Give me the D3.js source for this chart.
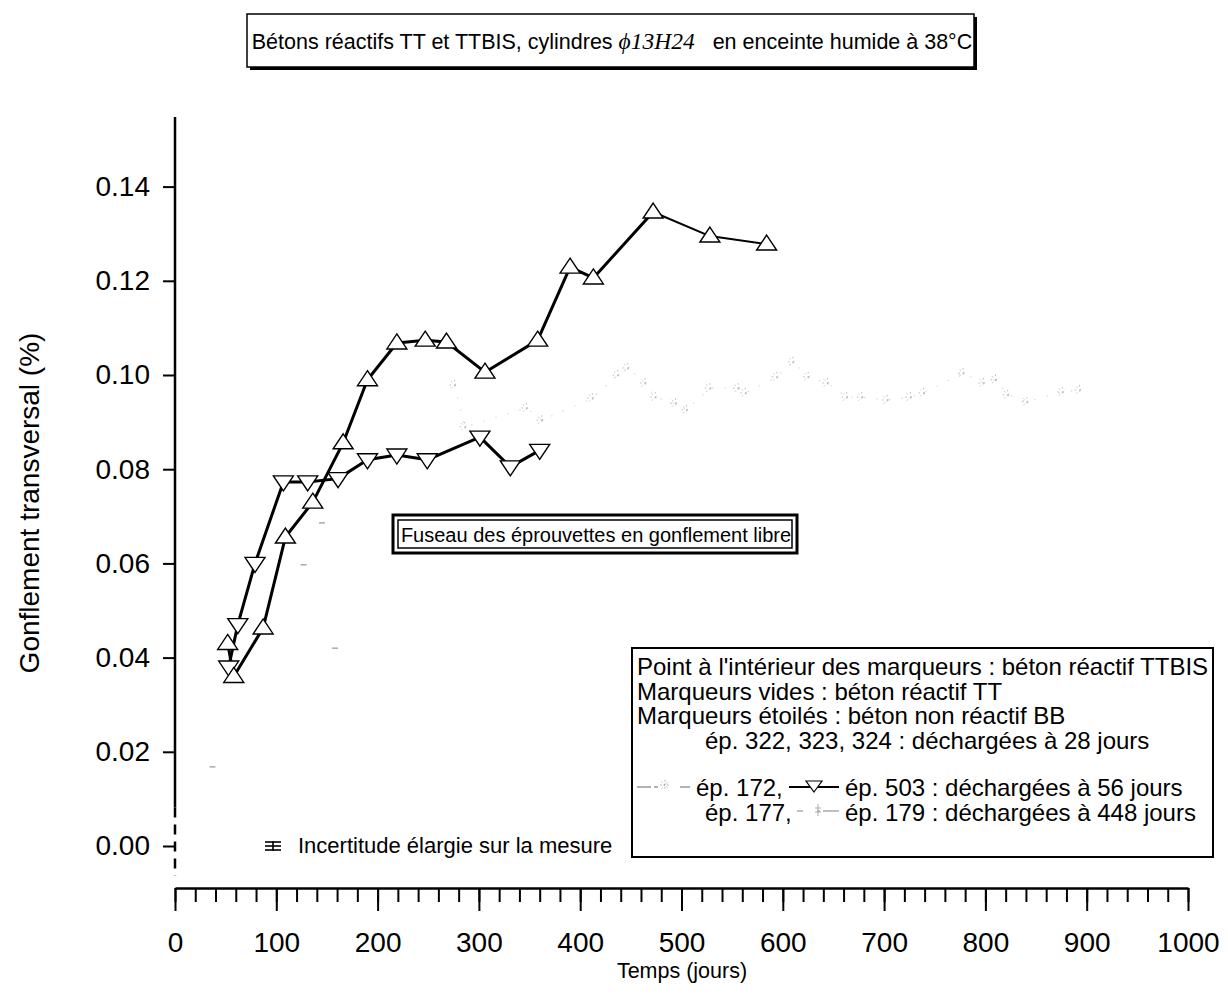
<!DOCTYPE html>
<html>
<head>
<meta charset="utf-8">
<script src="https://cdn.jsdelivr.net/npm/d3@7/dist/d3.min.js"></script>
<style>
  html, body { margin: 0; padding: 0; background: #fff; }
  svg { display: block; font-family: "Liberation Sans", Arial, Helvetica, sans-serif; }
</style>
</head>
<body>
<svg id="chart" width="1228" height="997"></svg>
<script>
// Swelling measurements (days, % transverse swelling)
const upDays   = [52, 58, 87, 109, 136, 166, 190, 219, 247, 268, 306, 358, 390, 413, 472, 528, 584];
const upValues = [0.043, 0.036, 0.0463, 0.0656, 0.073, 0.0856, 0.099, 0.1068, 0.1074, 0.107, 0.1006, 0.1074, 0.1229, 0.1206, 0.1346, 0.1295, 0.1278];

const downDays   = [53, 62, 79, 107, 131, 161, 190, 219, 249, 301, 331, 360];
const downValues = [0.038, 0.047, 0.060, 0.0773, 0.0773, 0.078, 0.082, 0.083, 0.082, 0.0868, 0.0805, 0.084];

// Non-reactive BB specimens (faint starred markers)
const bbDays   = [276, 286, 347, 362, 412, 437, 447, 464, 474, 494, 505, 528, 556, 563, 594, 610, 625, 644, 663, 678, 703, 726, 739, 778, 798, 810, 822, 841, 876, 893];
const bbValues = [0.0979, 0.089, 0.093, 0.0904, 0.0951, 0.100, 0.1015, 0.0983, 0.0953, 0.094, 0.0926, 0.0972, 0.0972, 0.0962, 0.0996, 0.1028, 0.0996, 0.0983, 0.0953, 0.0953, 0.0947, 0.0953, 0.0962, 0.1004, 0.0983, 0.099, 0.0958, 0.0943, 0.0964, 0.0968];

// Early specimens, almost invisible specks
const earlyDays   = [37, 127, 145, 158];
const earlyValues = [0.0168, 0.0597, 0.0686, 0.042];

const xTicks = d3.range(0, 1001, 100);
const xMinorTicks = d3.range(0, 1001, 20);
const yTicks = [0, 0.02, 0.04, 0.06, 0.08, 0.10, 0.12, 0.14];

const titleText = "Bétons réactifs TT et TTBIS, cylindres ";
const titleItalic = "\u03D513H24";
const titleEnd = "\u00A0\u00A0 en enceinte humide à 38°C";

const legendLines = [
  "Point à l'intérieur des marqueurs : béton réactif TTBIS",
  "Marqueurs vides : béton réactif TT",
  "Marqueurs étoilés : béton non réactif BB"
];

const svg = d3.select("#chart");

const x = d3.scaleLinear().domain([0, 1000]).range([175, 1188]);
const y = d3.scaleLinear().domain([0, 0.14]).range([846, 186.6]);

const zip = (a, b) => a.map((d, i) => ({ t: d, v: b[i] }));
const upData = zip(upDays, upValues);
const downData = zip(downDays, downValues);
const bbData = zip(bbDays, bbValues);
const earlyData = zip(earlyDays, earlyValues);

// ---- Title box with drop shadow
const tb = svg.append("g");
tb.append("rect").attr("x", 250).attr("y", 17).attr("width", 727).attr("height", 53).attr("fill", "#000");
tb.append("rect").attr("x", 247).attr("y", 14).attr("width", 727).attr("height", 53)
  .attr("fill", "#fff").attr("stroke", "#000").attr("stroke-width", 1.5);
const tt = tb.append("text").attr("x", 612).attr("y", 49).attr("text-anchor", "middle")
  .attr("font-size", 21.5).attr("fill", "#000");
tt.append("tspan").text(titleText);
tt.append("tspan").attr("font-family", "'Liberation Serif', 'Times New Roman', serif").attr("font-style", "italic").attr("font-size", 23.5).text(titleItalic);
tt.append("tspan").text(titleEnd);

// ---- Y axis
const yAxis = d3.axisLeft(y).tickValues(yTicks).tickFormat(d3.format(".2f")).tickSize(12).tickPadding(13);
const gy = svg.append("g").attr("transform", "translate(175,0)").call(yAxis);
gy.select(".domain").remove();
gy.selectAll(".tick line").attr("stroke", "#000").attr("stroke-width", 2);
gy.selectAll(".tick text").attr("font-size", 28).attr("fill", "#000").attr("font-family", "'Liberation Sans', Arial, sans-serif");
svg.append("line").attr("x1", 175).attr("x2", 175).attr("y1", y(0.1548)).attr("y2", y(0.0082))
  .attr("stroke", "#000").attr("stroke-width", 2.5);
svg.append("line").attr("x1", 175).attr("x2", 175).attr("y1", y(0.0082)).attr("y2", y(-0.0063))
  .attr("stroke", "#000").attr("stroke-width", 2.5).attr("stroke-dasharray", "10,7");

// ---- X axis
const gxMinor = svg.append("g").attr("transform", "translate(0,888)")
  .call(d3.axisBottom(x).tickValues(xMinorTicks).tickFormat("").tickSize(14).tickSizeOuter(0));
gxMinor.selectAll(".tick line").attr("stroke", "#000").attr("stroke-width", 2);
gxMinor.select(".domain").attr("stroke", "#000").attr("stroke-width", 2.5);
const gx = svg.append("g").attr("transform", "translate(0,888)")
  .call(d3.axisBottom(x).tickValues(xTicks).tickFormat(d3.format("d")).tickSize(23).tickPadding(21).tickSizeOuter(0));
gx.select(".domain").remove();
gx.selectAll(".tick line").attr("stroke", "#000").attr("stroke-width", 2);
gx.selectAll(".tick text").attr("font-size", 28).attr("fill", "#000").attr("font-family", "'Liberation Sans', Arial, sans-serif");

// ---- Axis titles
svg.append("text").attr("x", 682).attr("y", 978).attr("text-anchor", "middle")
  .attr("font-size", 21.5).attr("fill", "#000").text("Temps (jours)");
svg.append("text").attr("transform", "translate(39,503) rotate(-90)").attr("text-anchor", "middle")
  .attr("font-size", 28).attr("fill", "#000").text("Gonflement transversal (%)");

// ---- Faint series
const line = d3.line().x(d => x(d.t)).y(d => y(d.v));
const starPath = "M-5,0L5,0M0,-5L0,5M-3.5,-3.5L3.5,3.5M-3.5,3.5L3.5,-3.5";

svg.append("path").datum(bbData).attr("d", line).attr("fill", "none")
  .attr("stroke", "#dcdcdc").attr("stroke-width", 1.2).attr("stroke-dasharray", "1.5,11");
svg.append("g").selectAll("path").data(bbData).join("path")
  .attr("transform", d => `translate(${x(d.t)},${y(d.v)})`)
  .attr("d", starPath).attr("stroke", "#bcbcbc").attr("stroke-width", 1).attr("stroke-dasharray", "1.5,3.5");
svg.append("g").selectAll("path").data(earlyData).join("path")
  .attr("transform", d => `translate(${x(d.t)},${y(d.v)})`)
  .attr("d", "M-3,0L3,0").attr("stroke", "#aaa").attr("stroke-width", 1.5);

// ---- Main series
const upTri = "M0,-9L10,6L-10,6Z";
const downTri = "M0,9L10,-6L-10,-6Z";
const lateStart = upDays.indexOf(472);

svg.append("path").datum(upData.slice(0, lateStart + 1)).attr("d", line).attr("fill", "none")
  .attr("stroke", "#000").attr("stroke-width", 3).attr("stroke-linejoin", "round");
svg.append("path").datum(upData.slice(lateStart)).attr("d", line).attr("fill", "none")
  .attr("stroke", "#000").attr("stroke-width", 2).attr("stroke-linejoin", "round");
svg.append("path").datum(downData).attr("d", line).attr("fill", "none")
  .attr("stroke", "#000").attr("stroke-width", 3).attr("stroke-linejoin", "round");

svg.append("g").selectAll("path").data(downData).join("path")
  .attr("transform", d => `translate(${x(d.t)},${y(d.v)})`)
  .attr("d", downTri).attr("fill", "#fff").attr("stroke", "#000").attr("stroke-width", 1.4);
svg.append("g").selectAll("path").data(upData).join("path")
  .attr("transform", d => `translate(${x(d.t)},${y(d.v)})`)
  .attr("d", upTri).attr("fill", "#fff").attr("stroke", "#000").attr("stroke-width", 1.4);

// ---- "Fuseau" label box with double border
const fb = svg.append("g");
fb.append("rect").attr("x", 393).attr("y", 515).attr("width", 404).attr("height", 38)
  .attr("fill", "#fff").attr("stroke", "#000").attr("stroke-width", 3);
fb.append("rect").attr("x", 398).attr("y", 520).attr("width", 394).attr("height", 28)
  .attr("fill", "none").attr("stroke", "#000").attr("stroke-width", 1.5);
fb.append("text").attr("x", 596).attr("y", 541.5).attr("text-anchor", "middle")
  .attr("font-size", 20).attr("fill", "#000").text("Fuseau des éprouvettes en gonflement libre");

// ---- Uncertainty note
const ig = svg.append("g").attr("transform", "translate(273,846)");
[-4, 0, 4].forEach(dy => ig.append("line").attr("x1", -8).attr("x2", 8).attr("y1", dy).attr("y2", dy)
  .attr("stroke", "#000").attr("stroke-width", 1.6));
ig.append("line").attr("x1", 0).attr("x2", 0).attr("y1", -5).attr("y2", 5).attr("stroke", "#000").attr("stroke-width", 1.6);
svg.append("text").attr("x", 298).attr("y", 853).attr("font-size", 22).attr("fill", "#000")
  .text("Incertitude élargie sur la mesure");

// ---- Legend box
const lfs = 24;
const lg = svg.append("g");
lg.append("rect").attr("x", 632).attr("y", 648).attr("width", 581).attr("height", 209)
  .attr("fill", "#fff").attr("stroke", "#000").attr("stroke-width", 2);
legendLines.forEach((t, i) => {
  lg.append("text").attr("x", 637).attr("y", 675 + i * 24.5).attr("font-size", lfs).attr("fill", "#000").text(t);
});
lg.append("text").attr("x", 705).attr("y", 748.5).attr("font-size", lfs).attr("fill", "#000")
  .text("ép. 322, 323, 324 : déchargées à 28 jours");

// sample: faint starred line
lg.append("line").attr("x1", 637).attr("x2", 690).attr("y1", 787).attr("y2", 787)
  .attr("stroke", "#999").attr("stroke-width", 1.5).attr("stroke-dasharray", "14,3,4,22,12");
lg.append("path").attr("transform", "translate(665,785)").attr("d", starPath)
  .attr("stroke", "#aaa").attr("stroke-width", 1).attr("stroke-dasharray", "1.5,2");
lg.append("text").attr("x", 696).attr("y", 796).attr("font-size", lfs).attr("fill", "#000").text("ép. 172,");
// sample: black line with down triangle
lg.append("line").attr("x1", 789).attr("x2", 839).attr("y1", 787).attr("y2", 787)
  .attr("stroke", "#000").attr("stroke-width", 2);
lg.append("path").attr("transform", "translate(814,786)").attr("d", "M0,6L8,-5L-8,-5Z")
  .attr("fill", "#fff").attr("stroke", "#000").attr("stroke-width", 1.2);
lg.append("text").attr("x", 845).attr("y", 796).attr("font-size", lfs).attr("fill", "#000")
  .text("ép. 503 : déchargées à 56 jours");

lg.append("text").attr("x", 705).attr("y", 821).attr("font-size", lfs).attr("fill", "#000").text("ép. 177,");
lg.append("line").attr("x1", 797).attr("x2", 839).attr("y1", 811).attr("y2", 811)
  .attr("stroke", "#aaa").attr("stroke-width", 1.4).attr("stroke-dasharray", "6,14,3,3,20");
lg.append("path").attr("transform", "translate(818,810)").attr("d", "M0,-6L0,6M-3,-2L3,-2M-3,2L3,2")
  .attr("stroke", "#aaa").attr("stroke-width", 1);
lg.append("text").attr("x", 845).attr("y", 821).attr("font-size", lfs).attr("fill", "#000")
  .text("ép. 179 : déchargées à 448 jours");
</script>
</body>
</html>
